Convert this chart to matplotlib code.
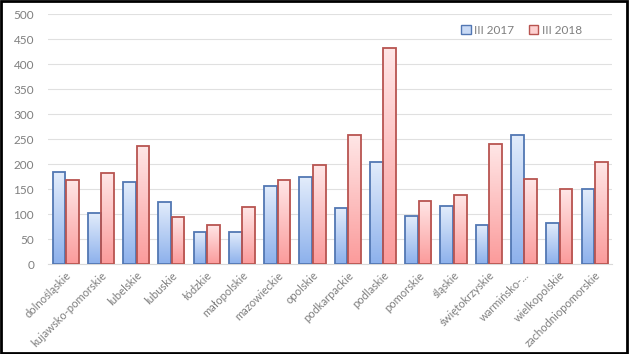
import numpy as np
import matplotlib.pyplot as plt
from matplotlib.patches import Rectangle, Patch
from matplotlib.colors import LinearSegmentedColormap

regions = ['dolnośląskie', 'kujawsko-pomorskie', 'lubelskie', 'lubuskie', 'łódzkie',
           'małopolskie', 'mazowieckie', 'opolskie', 'podkarpackie', 'podlaskie',
           'pomorskie', 'śląskie', 'świętokrzyskie', 'warmińsko-...', 'wielkopolskie',
           'zachodniopomorskie']
v2017 = [184, 102, 164, 124, 64, 64, 156, 174, 112, 204, 96, 116, 78, 258, 82, 150]
v2018 = [168, 182, 236, 94, 78, 114, 168, 198, 258, 432, 126, 138, 240, 170, 150, 204]
yticks = [0, 50, 100, 150, 200, 250, 300, 350, 400, 450, 500]

plt.rcParams['font.family'] = ['Lato', 'DejaVu Sans']
grey = '#7f7f7f'

fig = plt.figure(figsize=(6.29, 3.54), dpi=100)
ax = fig.add_axes([0.0763, 0.254, 0.897, 0.706])

blue_cm = LinearSegmentedColormap.from_list('b', ['#e2ecfb', '#8db1ec'])
red_cm = LinearSegmentedColormap.from_list('r', ['#ffe6e6', '#fb9b9b'])
grad = np.linspace(0, 1, 100).reshape(-1, 1)

x = np.arange(len(regions))
w = 0.36
off = 0.19

def gradient_bars(xs, vals, cmap, edge):
    for xi, v in zip(xs, vals):
        im = ax.imshow(grad, cmap=cmap, aspect='auto', origin='upper',
                       extent=(xi - w / 2, xi + w / 2, 0, v), zorder=2)
        r = Rectangle((xi - w / 2, 0), w, v, fill=False, edgecolor=edge, lw=1.3, zorder=3)
        ax.add_patch(r)
        im.set_clip_path(r)

gradient_bars(x - off, v2017, blue_cm, '#5277b3')
gradient_bars(x + off, v2018, red_cm, '#b85450')

ax.set_xlim(-0.5, len(regions) - 0.5)
ax.set_ylim(0, 500)
ax.set_yticks(yticks)
ax.set_xticks(x)
ax.set_xticklabels(regions, rotation=45, ha='right', rotation_mode='anchor')
ax.tick_params(length=0, labelsize=8, colors=grey)
ax.tick_params(axis='y', labelsize=8.5, pad=10)
ax.tick_params(axis='x', pad=4)
ax.grid(axis='y', color='#e0e0e0', lw=0.8, zorder=0)
for s in ['top', 'right', 'left']:
    ax.spines[s].set_visible(False)
ax.spines['bottom'].set_color('#d9d9d9')

handles = [Patch(facecolor='#c9daf5', edgecolor='#5277b3', label='III 2017'),
           Patch(facecolor='#fdd0d0', edgecolor='#b85450', label='III 2018')]
ax.legend(handles=handles, ncol=2, loc='upper right', bbox_to_anchor=(0.965, 1.0),
          frameon=False, fontsize=8.5, labelcolor=grey, handlelength=0.8,
          handleheight=0.8, handletextpad=0.3, columnspacing=1.2)

fig.add_artist(Rectangle((0.002, 0.003), 0.995, 0.993, transform=fig.transFigure,
                         fill=False, edgecolor='black', lw=2))

fig.savefig('out.png', dpi=100)
